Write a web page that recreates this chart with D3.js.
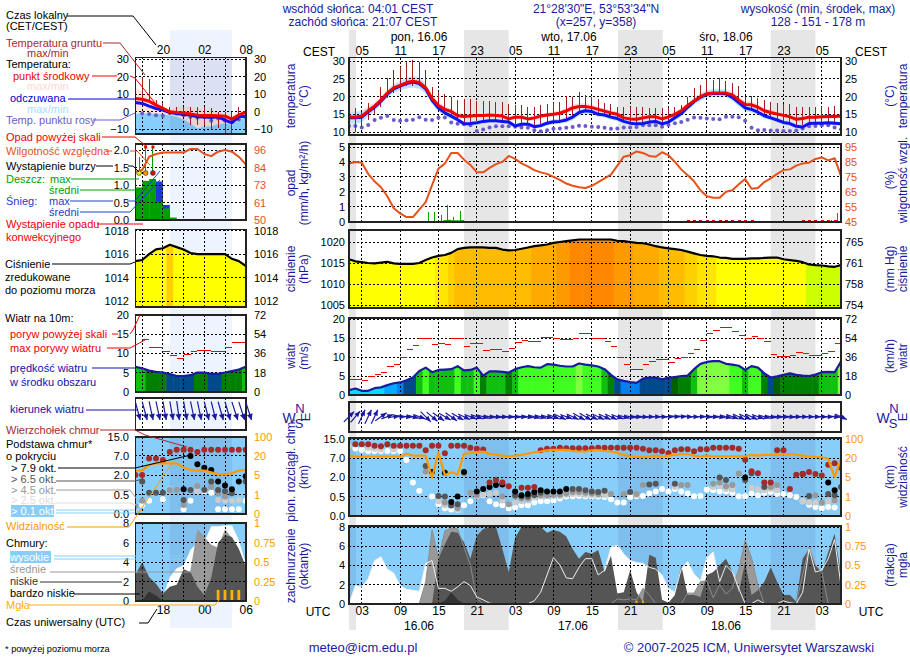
<!DOCTYPE html>
<html>
<head>
<meta charset="utf-8">
<title>Meteogram</title>
<script src="https://cdn.jsdelivr.net/npm/d3@7"></script>
<style>
  body { margin: 0; background: #fff; }
  svg { display: block; font-family: "Liberation Sans", Arial, sans-serif; }
  .grid line { stroke: #000; stroke-width: 1; stroke-dasharray: 2 2; shape-rendering: crispEdges; }
  .frame { fill: none; stroke: #222; stroke-width: 1.6; shape-rendering: crispEdges; }
  .crisp { shape-rendering: crispEdges; }
</style>
</head>
<body>
<div id="chart"></div>
<script>
// ---- main panels: one value per hour, hour 1 = 01 UTC 16.06, hour 78 = 06 UTC 19.06
const hours = d3.range(1, 79);
const tempMid = [14.3,14.2,14.5,16,17.3,19,21,22.5,23.2,24,24.4,24,22.5,19.5,17.5,16.4,15.8,14.6,14.4,14.5,14.7,14.7,14.8,14.7,14.5,13.7,14.2,14.2,13.7,14,14.5,14.8,15,15.3,16,16.8,17.2,17.2,16.9,16.4,15.9,15.4,15,14,13.7,13.6,14,14.3,14.3,13.7,14.3,15,16,17.5,18.8,20,20.8,21,21,21,20.5,19,17.8,17.7,17,16,15.5,15.1,14.7,14.3,13.6,13.8,14.2,14.2,14.3,14.4,14.4,14.5];
const tempFeel = [14,14,14.2,15.7,17,18.7,20.7,22.2,23,23.7,24.1,23.7,22.2,19,16.8,15.4,14.5,13.5,12.3,12.4,12.6,13,13.2,13.2,13,12.8,11.7,12.2,12.2,11.5,11.8,12.5,12.9,13,13.4,14.2,15.5,16,15.8,15,14.8,14.2,13.8,13,12.5,12.3,12.4,12.8,13,12.3,12.8,14,15.2,17,18.6,19.8,20.7,20.9,20.9,20.8,19.8,18.3,16.8,16.4,15.6,14.6,14,13.4,12.7,12.4,11.6,11.4,12.4,12.5,12.5,12.6,12.5,12.3];
const bandSpread = [1.5,1.6,1.5,1.2,1,1,1,1.1,1.2,1.4,1.5,1.5,1.3,1.1,1,.9,.8,.7,.6,.6,.6,.6,.6,.6,.6,.6,.6,.6,.6,.6,.6,.7,.7,.7,.8,.9,.9,.9,.8,.7,.7,.7,.7,.7,.7,.7,.7,.7,.7,.7,.7,.8,.8,.8,.9,1,1,1.1,1.1,1,1,1,.9,.9,.8,.8,.7,.7,.7,.7,.7,.6,.6,.6,.6,.6,.6,.6];
const dewPoint = [11.7,11.7,11.3,12,13.4,14,14.5,13.4,13.2,13.3,13.5,14.2,13.5,13.4,14,14.1,12.7,12.3,12.2,11.9,10.3,10.7,11.3,11.6,11.6,11.6,11.5,11.3,11.2,10.5,10.2,10.5,10.9,11,11.2,11.4,11.8,11.7,11.5,11.4,11.2,10.9,11,11.3,11.3,11.4,11.9,11.9,11.9,11.5,12,12.5,12.8,13.5,14.1,14,13.8,13.7,13.6,14.3,14.3,14.2,13.2,11.2,10.5,10.6,10.4,10.4,10.3,10.3,10.4,11,11.6,11.7,11.9,11.9,11.3,10.8];
const soilMax = [14.5,16.7,15.6,18.1,17.2,22.8,25.2,27.5,28.5,29.9,30.4,29.9,27.5,22.6,21.4,20.8,20,19,19.3,19.2,18.9,18.7,18.7,18.5,18.4,17.8,17.6,17.5,17.2,17.2,17.7,17.9,18.3,18.6,20.2,20,21.2,20.5,20,19.4,18.1,17.9,17.2,17.2,17,17.2,17.2,16.9,16.9,16.9,16.7,17.2,17.6,20,22.4,23.3,24.9,24.7,25.2,24.4,23.8,23,20,20.2,19.5,19,18.6,18.1,17.9,17.8,17.2,17.2,17.2,17.2,17.2,17.2,17.4,14.5];
const soilMin = [14,10,11.5,13.5,15,17,19.5,21,22,23,23,23,22,18.5,16.5,15.3,14.5,13.5,12.8,12.8,13,13.2,13.4,13.2,13,12.6,12.2,12.4,12.4,12,12.2,12.8,13,13.2,13.8,14.6,15.6,16,15.8,15.2,15,14.4,14,13.2,12.8,12.6,12.6,13,13.2,12.4,13,14.2,15.4,17,18.6,19.8,20.5,20.8,20.8,20.6,19.8,18.3,16.8,16.4,15.6,14.8,14.2,13.6,12.9,12.5,11.6,12,12.5,12.6,12.6,12.7,12.6,14];

const humidity = [84,85,84.5,77,72,68,62,54,50.5,48,48,53,58,69.5,80.5,84,91,91,86.5,83,78,78,81,83.5,85,89,87,84,82,79.5,78,77,75,73,70.5,69,68,67.5,69,71.5,74,76.5,82.5,88.5,89.5,92,91,89,88.5,91.5,89.5,85,80,76,72,66,62,61,61,65,66,70,73.5,67,67.5,71.5,74,77,79.5,80,82.5,84,84.5,87,88,86,87.5,75.5];
const rainMax = [[13.45,.67],[14.4,.67],[15.5,.45],[16.4,1.1],[17.4,.33],[18.4,.7],[76.5,.1],[77.4,.55]];
const rainAvg = [[15.8,.1],[16.4,.12],[16.9,.08],[17.4,.08],[17.9,.08],[18.4,.1]];
const convective = [54,55,56,57,58,59,60,61,62,63,64,72,73,74,75,76,77,78];

const pressure = [1015.9,1015.4,1015.2,1015,1014.9,1015.1,1015.3,1014.9,1014.8,1014.8,1014.8,1015,1015.7,1016.3,1016.7,1016.9,1017.4,1018.3,1018.6,1018.7,1018.7,1018.7,1018.6,1018.6,1018.2,1018,1018.1,1018.4,1018.7,1019,1019.2,1019.4,1019.8,1020,1020.2,1020.4,1020.6,1020.6,1020.6,1020.6,1020.6,1020.6,1020.3,1020.2,1020,1019.8,1019.7,1019.4,1019,1018.7,1018.5,1018.3,1018.1,1017.7,1017.3,1016.9,1016.7,1016.6,1016.3,1016.2,1016,1016,1016,1016.1,1016.1,1016.2,1016.3,1016.3,1015.9,1015.7,1015.5,1015.2,1014.65,1014.5,1014.4,1014.2,1014.1,1014.5];
const pressureBreaks = [1014.7,1016.5,1017.2,1017.9,1018.9,1019.9,1020.35];
const pressureColors = ["#ccff00","#ffff00","#ffe600","#ffd000","#ffbb00","#ffaa00","#ff9900","#ff8800"];

const windSpeed = [1.3,1.7,1.1,1.1,1.8,2,2.6,3.1,3.3,3.9,4.6,6.3,7.2,6,6.6,6.7,6.8,7.6,6.5,6.6,7.2,5.1,6.2,6.2,6.1,5.9,6.8,7.3,7.6,7.3,7.2,8.1,8,7.7,7.5,7.5,8.3,8,7.8,7.5,6.8,5.3,4.1,3.7,3.4,3.2,4.3,4.6,4.6,4.1,4.6,4.7,5,5.1,6.8,8.2,8.7,8.9,8.9,8.2,8,7.7,6.6,7.6,7.2,5.7,4.6,4.9,5.3,5.7,5.3,5.1,5,5.4,6,6.1,6,8.8];
const windGust = [4.1,4.1,3.9,4.8,5.4,6,7.5,8.1,9.9,12.1,13.1,14.9,14.9,13.4,13.6,13.3,14.9,14.9,12.8,13.6,13.6,11.8,12.1,11.9,11.4,12.3,13.9,14.4,14.1,14,15.1,15.1,14.9,14.6,14.6,14.9,16.2,16.2,14.9,14.8,14.1,12.7,9.9,8,6.8,6.8,8,8.9,9.4,9.4,8.6,9.5,9.9,11,12,14.3,16.2,17,17.8,17.8,16.8,15.7,14.9,15.4,14.9,14,10.7,10.2,10.2,10.5,11.2,10.9,10.4,10.4,10.9,11.5,13.6,17];
const windBreaks = [2.2,3.2,3.9,4.7,5,6,7,8.2];
const windColors = ["#00ddff","#00aaff","#0080f0","#004a8c","#006000","#008000","#10c010","#40ff20","#80ff40"];
const windHeading = [45,50,65,65,65,35,20,10,0,-5,-15,-20,-45,-40,-35,-30,-35,-30,-25,-20,-20,-15,-10,-8,-5,-5,-5,-5,-10,-15,-15,-15,-20,-25,-20,-25,-30,-30,-25,-25,-25,-25,-20,-15,-10,-5,-5,0,0,0,5,5,5,0,0,0,-5,-5,-10,-15,-20,-25,-25,-25,-20,-15,-10,-5,-5,-5,0,0,0,0,0,0,-5,-25];

// cloud base in km as [hour, km], sparse because a level is not always present
const cloudTop = [[2,12.8],[3,12.8],[4,12.8],[5,12.2],[6,12],[7,12.8],[8,12.2],[9,12.2],[10,12.2],[11,12.2],[12,12.2],[13,10.3],[14,12.2],[15,12.2],[16,9.1],[17,12.2],[18,12.2],[19,12.2],[20,11.4],[21,10.9],[22,10.6],[23,1.6],[24,1.8],[25,1.6],[26,1.3],[28,1.2],[29,1.2],[30,1.25],[31,10.3],[32,10.9],[33,10.9],[34,11.4],[35,11.1],[36,11.1],[37,11.1],[38,11.1],[39,11.1],[40,11.4],[41,11.4],[42,11.4],[43,11.4],[44,11.4],[45,11.4],[46,11.4],[47,10.9],[48,10.3],[49,10.3],[50,9.9],[51,9.1],[52,10.3],[53,10.7],[54,10.7],[55,9.9],[56,10.7],[57,10.7],[58,11.4],[59,11.4],[60,11.4],[61,11.4],[62,10.9],[63,6.6],[64,3.6],[65,3.1],[66,1.6],[67,1.6],[68,10.3],[69,10.3],[70,1.1],[71,2.7],[72,2.9],[73,3.4],[74,2.9],[75,2.5],[76,5.3],[77,5.7],[78,4.5]];
const base79 = [[14,3.4],[16,3.2],[17,.36],[18,.5],[19,3.4],[21,.9],[22,1.1],[23,1.25],[24,1.4],[25,1.45],[27,.9],[28,.6],[29,.7],[30,.85],[31,1],[32,.9],[33,.9],[34,.9],[35,1.1],[63,2],[72,2.9],[76,1.6],[77,1]];
const base65 = [[13,5],[15,.55],[16,.5],[17,.27],[18,.3],[27,.6],[28,.5],[29,.5],[30,.6],[31,.8],[36,1.1],[37,1.1],[38,1],[39,.9],[40,.85],[41,.95],[45,.85],[48,1.45],[49,1.5],[52,1.5],[59,2],[60,1.8],[63,1.8],[64,3.1],[66,1.25],[73,.55],[76,.7],[77,.6],[78,1.25]];
const base45 = [[13,3.5],[16,.35],[18,.2],[19,3],[20,.8],[21,.6],[25,.5],[26,.3],[27,.5],[28,.45],[29,.45],[31,.6],[32,.6],[33,.65],[34,.65],[35,.75],[36,.85],[37,.85],[38,.8],[39,.75],[40,.7],[42,.7],[44,.7],[46,.7],[47,1.4],[53,1.4],[54,1.4],[58,1.5],[59,1.6],[60,1.3],[61,1.4],[62,3],[67,1.25],[68,1.4],[74,.6],[75,.35],[77,.4]];
const base25 = [[1,12],[4,11.2],[5,10.9],[6,10.6],[8,10.6],[13,3],[15,.38],[16,.28],[18,.17],[21,.5],[22,.65],[23,.7],[24,.8],[25,.4],[27,.35],[28,.38],[29,.4],[30,.48],[31,.5],[32,.55],[33,.55],[34,.55],[35,.65],[36,.7],[37,.7],[38,.65],[39,.6],[40,.6],[41,.6],[46,.6],[52,1.25],[58,1.25],[59,1.3],[60,1.1],[61,1.05],[64,1.2],[65,1.05],[66,1],[67,1.1],[68,1],[72,.38],[73,.35],[74,.35],[75,.33],[76,.38],[77,.38]];
const base01 = [[2,11],[3,10.5],[4,10],[5,10],[6,10],[7,10],[8,10],[9,10],[10,6.5],[11,1.6],[12,.95],[14,.5],[15,.3],[16,.2],[17,.17],[18,.16],[19,.28],[20,.38],[21,.55],[22,.6],[23,.38],[24,.3],[25,.28],[26,.2],[27,.22],[28,.28],[29,.28],[30,.35],[31,.38],[32,.38],[33,.4],[34,.45],[35,.5],[36,.52],[37,.54],[38,.52],[39,.5],[40,.5],[41,.49],[42,.43],[43,.35],[44,.35],[45,.49],[46,.52],[47,.54],[48,.75],[49,.9],[50,1.1],[51,.9],[52,1.1],[53,.9],[54,.75],[55,.52],[56,.54],[57,1.05],[58,1],[59,.9],[60,.9],[61,.8],[62,.52],[63,.52],[64,.75],[65,.6],[66,.8],[67,.85],[68,.7],[69,.7],[70,.6],[71,.49],[72,.38],[73,.29],[74,.23],[75,.2],[76,.23],[77,.22]];
const visibility = [31,28,27,27,27,27,27,27,27,38,31,31,31,4.9,45,6.6,9,7.3,38,41,45,48,38,35,31,28,31,34,39,45,48,53,54.5,54.5,54.5,50,48,48,53,54,50,48,42,34,28,25.5,24,27,31,27,31,34,37,37,31,27,31,28,28,28,28,28,28,34,31,34,34,34,35,37,35,31,28,25.5,24,19.5,5.2,20];

const cloudHigh = [0,1.9,1.75,2.6,4.5,4.9,3.6,3.2,1.9,1.5,1.4,1.3,4.2,4.5,1.6,1.6,1.3,1.75,2.3,1.9,.7,.4,.05,0,0,0,0,0,0,.3,1.2,3,4.8,4.05,2.7,2.6,3.8,4.7,4.7,3,3.5,5.9,6.1,5.2,4.5,4.3,4.2,3.8,3.6,3,1.6,1.2,3.6,4.4,3.1,2.4,4.8,5.4,2.3,4,3.3,1.6,0,0,.4,0,0,0,.3,.1,0,1.2,5.7,3.3,3.5,4.7,6.7,1.9];
const cloudMid = [0,0,0,0,0,0,0,0,0,0,0,0,2.3,7.7,4.7,7.6,7.9,7.8,5.9,4,.5,0,0,0,0,0,0,0,0,0,0,0,0,0,0,0,0,0,0,0,0,0,.5,.4,.5,.4,1.6,.9,0,0,0,0,0,1.1,1.1,2.3,2.4,.6,2,1,1.6,3.6,6.6,4.8,1.9,0,0,0,0,0,0,3,5.9,4,3.3,0,0,0];
const cloudLow = [0,0,0,0,0,0,0,0,0,0,0,0,0,0,4.7,6.2,7.5,7.4,6.4,4.7,7.1,7.8,8,8,5.7,3.3,6.9,8,8,8,8,7.4,7.7,7.5,7,5.7,4.7,5.4,5.2,5.6,3.3,5,1.07,1.2,3.5,1.2,.2,5.1,4.8,.4,.1,.9,4,.9,.9,.7,3,3.3,4,4.7,3.3,1.2,4.3,.9,1.4,2.3,3.8,2.3,.9,.9,.2,4.7,5.7,4,3.3,5.4,7.3,3];
const cloudVeryLow = [0,0,0,0,0,0,0,0,0,0,0,0,0,0,0,.3,1.2,.4,0,0,0,0,0,0,0,0,0,0,0,0,0,0,0,0,0,0,0,0,0,0,0,0,0,0,0,0,0,0,0,0,0,0,0,0,0,0,0,0,0,0,0,0,0,0,0,0,0,0,0,0,0,0,0,0,0,0];
const fog = [[46,.04],[47,.04]];

const nightStart = [0, 19, 43.1, 67];
const nightEnd = [2.1, 26, 50.1, 74];

// ---- legend panel: 14 UTC to 06 UTC, one value per hour
const legendHours = d3.range(14, 31);
const legendTemp = [7.6,7.2,6,3.8,1.9,0,-.4,-.6,-1.3,-1.9,-2.1,-2.1,-2.3,-2.5,-4.2,-1.9,-.2];
const legendFeel = [5.3,4.8,3.2,1.9,1,-.4,-1,-1.5,-1.9,-2.9,-3,-3.2,-2.9,-4.8,-6.3,-2.9,-2.5];
const legendDew = [null,-1,-1.3,-1.9,-2.3,-.6,-1,-1.9,-2.9,-3.4,-2.9,-5.1,-3.8,-5.1,-5.7,-4.4,-2.9];
const legendPinkTop = [13.9,11.4,9.5,6.7,2.5,1.5,2.9,2.9,2.9,1.9,1,.6,0,-1,-1.9,0,0];
const legendBlueTop = [-1,-1,-1,-1,-1.3,-1.9,-2.9,-4.4,-6.7,-9.5,-8.6,-8.2,-7,-6.7,-7.6,-4.8,-2.9];
const legendSoilMax = [null,20,19,6.7,4.8,2.9,2.9,2.9,2.9,2.5,2.5,1.9,0,0,0,2.9,null];
const legendSoilMin = [null,6.7,6.7,3.8,.6,-1.9,-1.9,-2.9,-7.6,-7.6,-7.6,-10.1,-9.5,-12.4,-12,-4.8,null];
const legendHumidity = [81.8,82.9,91.6,93.4,94.3,94.3,94.3,94.3,96.7,96.7,93.4,92,94.9,96,94.9,91.6,86.6];
const legendRain = [.93,1.12,1.17,.52,.33,.07];
const legendSnow = [0,0,0,1.1,.43,0];
const legendStorm = [[14.55,"#ffee00",1.8],[15.5,"#ff9900",2.05],[16.55,"#ee0000",2.05]];
const legendConvective = [14.5,15,15.5,16,16.5,17,17.5,18,18.5];
const legendPressure = [1015.4,1015.5,1016,1016.4,1016.5,1016.8,1016.6,1016.4,1016.1,1016,1016,1016,1016,1016,1015.6,1015.4,1015];
const legendWind = [6.5,6.1,5.5,5.2,5,4.6,4.1,4.1,4.3,5,5,4.65,4.65,5,5.4,5.8,6.5];
const legendGust = [null,13.6,11.6,11.6,10.5,9.5,8.7,9.7,10.5,10.8,10.8,10.4,10.4,11.6,12.7,12.9];
const legendHeading = [-75,-75,-78,-78,-80,-80,-82,-80,-78,-78,-76,-76,-74,-74,-72,-72,-72];
const legendTop = [[14,2],[15,2],[16,6.3],[17,6.3],[18,5.9],[19,8.6],[20,9.5],[21,9.5],[22,9.5],[23,8.6],[24,9.5],[25,9.5],[26,9.5],[27,9.5],[28,9.5],[29,9.5],[30,9.5]];
const legend79 = [[21,.9],[22,6.9],[23,4.8],[24,3.9],[25,3.3],[26,1.5],[27,1.2],[28,.9],[29,1.5],[30,1.9]];
const legend65 = [[15,1.5],[16,.65],[17,.65],[18,.65],[21,.36],[22,.85],[24,.85],[25,1.5],[26,.85],[27,.75],[28,.6],[30,1.5]];
const legend45 = [[14,.2],[15,.34],[19,.85],[20,.85],[21,.23],[23,1.15],[25,1.1],[26,.6],[27,.45]];
const legend25 = [[14,.15],[19,.9],[23,.75],[26,.36],[27,.34],[28,.34],[29,.36]];
const legend01 = [[15,.23],[16,.34],[18,.38],[21,.12],[22,.34],[23,.75],[24,.75],[25,.65],[26,.12],[27,.12],[28,.12],[29,.12],[30,.34]];
const legendVis = [8.4,8.4,12.8,14,14,14,14,11,8.9,8.4,8.4,7,5.5,5.5,6.3,8.4,8.9];
const legendHigh = [0,0,0,.1,.5,2.5,3.4,3.7,5.3,6,6.1,7.7,7.7,7.8,7.8,6.3,3.9];
const legendMid = [0,0,0,0,0,0,0,1,3.2,7.4,6.6,5.8,5.5,7.4,6.5,5,3.2];
const legendLow = [2.7,4,2.5,1.8,.8,1.5,1.7,3.3,3,1.5,.65,2.4,6,6.8,6.6,5.4,3.6];
const legendVeryLow = [0,.1,1,.6,0,0,0,0,0,0,0,0,0,0,0,0,0];
const legendFog = [[26,.145],[27,.145],[28,.145],[29,.145]];

// ---- tick labels
const tempTicks = [30,25,20,15,10];
const precipTicks = [5,4,3,2,1,0];
const humidityTicks = [95,85,75,65,55,45];
const hpaTicks = [1020,1015,1010,1005];
const mmHgLabels = [765,761,758,754];
const windTicks = [20,15,10,5,0];
const kmhLabels = [72,54,36,18,0];
const baseTicks = [0,.5,2,7,15];
const visTicks = [0,1,5,20,100];
const coverTicks = [8,6,4,2,0];
const fracTicks = [1,.75,.5,.25,0];
const timeTicks = d3.range(3, 78, 6);
const legendTimeTicks = [15,18,21,24,27];

const NAVY = "#1a1aa0", ORANGE = "#ff9900", HUM = "#e8501a", SKY = "#87cefa";
const width = 910, height = 660;

const svg = d3.select("#chart").append("svg").attr("width", width).attr("height", height);

function txt(x, y, s, fill = "#000", anchor = "start", size = 12, rotate = false) {
  const t = svg.append("text").attr("fill", fill).attr("text-anchor", anchor)
    .attr("font-size", size).text(s);
  if (rotate) t.attr("transform", `translate(${x},${y}) rotate(-90)`);
  else t.attr("x", x).attr("y", y);
  return t;
}

function leader(color, pts) {
  svg.append("path").attr("d", d3.line()(pts)).attr("fill", "none")
    .attr("stroke", color).attr("stroke-width", 1);
}

function valueAxis(scale, x, side, vals, color, fmt) {
  const axis = (side === "left" ? d3.axisLeft(scale) : d3.axisRight(scale))
    .tickValues(vals).tickSize(0).tickPadding(0).tickFormat(fmt || d3.format("d"));
  const g = svg.append("g").attr("transform", `translate(${x},0)`).call(axis);
  g.select(".domain").remove();
  g.selectAll("text").attr("fill", color).attr("font-size", 11)
    .attr("font-family", "Liberation Sans");
}

function timeAxis(scale, y, side, vals, fmt) {
  const axis = (side === "top" ? d3.axisTop(scale) : d3.axisBottom(scale))
    .tickValues(vals).tickSize(0).tickPadding(0).tickFormat(fmt);
  const g = svg.append("g").attr("transform", `translate(0,${y})`).call(axis);
  g.select(".domain").remove();
  g.selectAll("text").attr("fill", "#000").attr("font-size", 12)
    .attr("font-family", "Liberation Sans");
}

let clipCount = 0;
function panel(x, top, bottom, fill) {
  const x0 = x.range()[0], x1 = x.range()[1];
  const id = "clip" + (clipCount++);
  svg.append("clipPath").attr("id", id).append("rect")
    .attr("x", x0).attr("y", top).attr("width", x1 - x0).attr("height", bottom - top);
  const g = svg.append("g").attr("clip-path", `url(#${id})`);
  if (fill) {
    g.append("rect").attr("x", x0).attr("y", top).attr("width", x1 - x0)
      .attr("height", bottom - top).attr("fill", fill);
  }
  return { g, x0, x1, top, bottom, x };
}

function nightOverlay(p, starts, ends) {
  p.g.selectAll(null).data(starts).enter().append("rect")
    .attr("x", d => p.x(d)).attr("width", (d, i) => p.x(ends[i]) - p.x(d))
    .attr("y", p.top).attr("height", p.bottom - p.top)
    .attr("fill", "#3a3a80").attr("opacity", 0.1);
}

function gridLines(p, xTicks, yTicks, y) {
  const g = p.g.append("g").attr("class", "grid");
  g.selectAll(null).data(xTicks).enter().append("line")
    .attr("x1", d => p.x(d)).attr("x2", d => p.x(d)).attr("y1", p.top).attr("y2", p.bottom);
  g.selectAll(null).data(yTicks).enter().append("line")
    .attr("y1", d => y(d)).attr("y2", d => y(d)).attr("x1", p.x0).attr("x2", p.x1);
}

function frame(p) {
  svg.append("rect").attr("class", "frame").attr("x", p.x0).attr("y", p.top)
    .attr("width", p.x1 - p.x0).attr("height", p.bottom - p.top);
}

function strokeLine(p, xs, vals, y, color, w) {
  const line = d3.line().defined(d => d[1] != null).x(d => p.x(d[0])).y(d => y(d[1]));
  p.g.append("path").attr("d", line(xs.map((h, i) => [h, vals[i]])))
    .attr("fill", "none").attr("stroke", color).attr("stroke-width", w)
    .attr("stroke-linejoin", "round");
}

function band(p, xs, lo, hi, color) {
  const area = d3.area().x(d => p.x(d[0])).y0(d => lo(d[1])).y1(d => hi(d[1]));
  p.g.append("path").attr("d", area(xs.map((h, i) => [h, i]))).attr("fill", color);
}

// filled area under a line, each hour coloured by its value
function colourArea(p, xs, vals, y, colour) {
  const id = "clip" + (clipCount++);
  const area = d3.area().x(d => p.x(d[0])).y0(p.bottom).y1(d => y(d[1]));
  svg.append("clipPath").attr("id", id).append("path")
    .attr("d", area(xs.map((h, i) => [h, vals[i]])));
  p.g.append("g").attr("clip-path", `url(#${id})`)
    .selectAll("rect").data(xs).enter().append("rect")
    .attr("x", h => p.x(h - 0.5)).attr("width", h => p.x(h + 0.5) - p.x(h - 0.5) + 0.5)
    .attr("y", p.top).attr("height", p.bottom - p.top)
    .attr("fill", (h, i) => colour(vals[i]));
}

function dots(p, pts, y, color, r) {
  p.g.selectAll(null).data(pts).enter().append("circle")
    .attr("cx", d => p.x(d[0])).attr("cy", d => y(d[1])).attr("r", r).attr("fill", color);
}

function arrows(group, x, cy, xs, heading, len, head, hw, tailAtTop) {
  xs.forEach((h, i) => {
    const a = heading[i] * Math.PI / 180;
    const l = typeof len === "function" ? len(a) : len;
    const dx = Math.cos(a), dy = -Math.sin(a);
    const cx = x(h);
    const sx = tailAtTop ? cx : cx - dx * l / 2, sy = tailAtTop ? cy - dy * l : cy - dy * l / 2;
    const ex = tailAtTop ? cx + dx * l : cx + dx * l / 2, ey = tailAtTop ? cy : cy + dy * l / 2;
    group.append("line").attr("x1", sx).attr("y1", sy).attr("x2", ex).attr("y2", ey)
      .attr("stroke", "#1a1aa0").attr("stroke-width", 1.2);
    const bx = ex - dx * head, by = ey - dy * head;
    group.append("path")
      .attr("d", `M${ex},${ey}L${bx - dy * hw},${by + dx * hw}L${bx + dy * hw},${by - dx * hw}Z`)
      .attr("fill", "#1a1aa0");
  });
}

const pressureColour = d3.scaleThreshold().domain(pressureBreaks).range(pressureColors);
const windColour = d3.scaleThreshold().domain(windBreaks).range(windColors);

// ---- grey night bands behind the main panels, pale blue one behind the legend panels
const xMain = d3.scaleLinear().domain([1, 78]).range([349, 841]);
const xLeg = d3.scaleLinear().domain([14, 30]).range([135.3, 245.7]);

svg.selectAll(null).data(nightStart).enter().append("rect")
  .attr("x", (d, i) => xMain(Math.max(d, 1)))
  .attr("width", (d, i) => xMain(nightEnd[i]) - xMain(Math.max(d, 1)))
  .attr("y", 30).attr("height", 600).attr("fill", "#e6e6e6");
svg.append("rect").attr("x", xLeg(19)).attr("width", xLeg(28) - xLeg(19))
  .attr("y", 30).attr("height", 598).attr("fill", "#eef4ff");

// ---- main: temperature
{
  const y = d3.scaleLinear().domain([10, 30]).range([132, 61.3]);
  const p = panel(xMain, 57.5, 135);
  band(p, hours, i => y(tempMid[i] - bandSpread[i]), i => y(tempMid[i] + bandSpread[i]), "#ffd8d8");
  band(p, hours, i => y(tempFeel[i] - bandSpread[i]), i => y(tempFeel[i] + bandSpread[i]), "#b8e4ff");
  gridLines(p, timeTicks, tempTicks, y);
  dots(p, hours.map((h, i) => [h, dewPoint[i]]), y, "#6a5acd", 2);
  p.g.selectAll(null).data(hours).enter().append("line").attr("class", "crisp")
    .attr("x1", d => p.x(d)).attr("x2", d => p.x(d))
    .attr("y1", (d, i) => y(soilMax[i])).attr("y2", (d, i) => y(soilMin[i]))
    .attr("stroke", "#a02020").attr("stroke-width", 1);
  strokeLine(p, hours, tempFeel, y, "#1010f0", 3);
  strokeLine(p, hours, tempMid, y, "#f00000", 3);
  frame(p);
  valueAxis(y, 345, "left", tempTicks, "#000");
  valueAxis(y, 845, "right", tempTicks, "#000");
}

// ---- main: precipitation and humidity
{
  const y = d3.scaleLinear().domain([0, 5]).range([221.6, 147]);
  const yH = d3.scaleLinear().domain([45, 95]).range([221.6, 147]);
  const p = panel(xMain, 144, 222);
  gridLines(p, timeTicks, precipTicks, y);
  p.g.selectAll(null).data(rainMax).enter().append("line").attr("class", "crisp")
    .attr("x1", d => p.x(d[0])).attr("x2", d => p.x(d[0]))
    .attr("y1", d => y(d[1])).attr("y2", y(0))
    .attr("stroke", "#00a000").attr("stroke-width", 1);
  p.g.selectAll(null).data(rainAvg).enter().append("rect")
    .attr("x", d => p.x(d[0])).attr("width", 4)
    .attr("y", d => y(d[1])).attr("height", d => y(0) - y(d[1])).attr("fill", "#00a000");
  p.g.selectAll(null).data(convective).enter().append("rect").attr("class", "crisp")
    .attr("x", d => p.x(d) - 1).attr("width", 3).attr("y", 220).attr("height", 2).attr("fill", "#e00000");
  strokeLine(p, hours, humidity, yH, HUM, 2);
  frame(p);
  valueAxis(y, 345, "left", precipTicks, "#000");
  valueAxis(yH, 845, "right", humidityTicks, HUM);
}

// ---- main: pressure
{
  const y = d3.scaleLinear().domain([1005, 1020]).range([305, 242]);
  const yMm = d3.scalePoint().domain(mmHgLabels).range([242, 305]);
  const p = panel(xMain, 230, 308);
  colourArea(p, hours, pressure, y, pressureColour);
  gridLines(p, timeTicks, hpaTicks, y);
  strokeLine(p, hours, pressure, y, "#000", 2.2);
  frame(p);
  valueAxis(y, 345, "left", hpaTicks, "#000");
  valueAxis(yMm, 845, "right", mmHgLabels, "#000");
}

// ---- main: wind
{
  const y = d3.scaleLinear().domain([0, 20]).range([395, 319]);
  const yK = d3.scaleLinear().domain([0, 72]).range([395, 319]);
  const p = panel(xMain, 317.7, 395);
  colourArea(p, hours, windSpeed, y, windColour);
  gridLines(p, timeTicks, windTicks, y);
  p.g.selectAll(null).data(hours).enter().append("line").attr("class", "crisp")
    .attr("x1", d => p.x(d)).attr("x2", d => p.x(d + 1))
    .attr("y1", (d, i) => y(windGust[i])).attr("y2", (d, i) => y(windGust[i]))
    .attr("stroke", "#f00000").attr("stroke-width", 1);
  strokeLine(p, hours, windSpeed, y, "#1a1aa0", 2.2);
  frame(p);
  valueAxis(y, 345, "left", windTicks, "#000");
  valueAxis(yK, 845, "right", kmhLabels, "#000");
}

// ---- main: wind direction
{
  const p = panel(xMain, 401.7, 431.7);
  gridLines(p, timeTicks, [], null);
  frame(p);
  arrows(svg.append("g"), xMain, 416.7, hours, windHeading, a => 11 + 5 * Math.abs(Math.sin(a)), 6, 2.5, false);
}

// ---- main: cloud base and visibility
{
  const y = d3.scaleLinear().domain(baseTicks).range([516, 496.6, 477.4, 458.2, 439]);
  const yV = d3.scaleLinear().domain(visTicks).range([516, 496.6, 477.4, 458.2, 439]);
  const p = panel(xMain, 437.7, 516, SKY);
  nightOverlay(p, nightStart, nightEnd);
  gridLines(p, timeTicks, baseTicks, y);
  dots(p, base01, y, "#fff", 3);
  dots(p, base25, y, "#cccccc", 3);
  dots(p, base45, y, "#999999", 3);
  dots(p, base65, y, "#555555", 3);
  dots(p, base79, y, "#000", 3);
  dots(p, cloudTop, y, "#a52a2a", 3);
  strokeLine(p, hours, visibility, yV, ORANGE, 2.2);
  frame(p);
  valueAxis(y, 345, "left", baseTicks, "#000", d3.format(".1f"));
  valueAxis(yV, 845, "right", visTicks, ORANGE);
}

// ---- main: cloud cover and fog
{
  const y = d3.scaleLinear().domain([0, 8]).range([603.7, 527]);
  const yF = d3.scaleLinear().domain([0, 1]).range([603.7, 527]);
  const p = panel(xMain, 526, 603.7, SKY);
  nightOverlay(p, nightStart, nightEnd);
  band(p, hours, () => y(0), i => y(cloudHigh[i]), "#fff");
  band(p, hours, () => y(0), i => y(cloudMid[i]), "#999999");
  band(p, hours, () => y(0), i => y(cloudLow[i]), "#555555");
  band(p, hours, () => y(0), i => y(cloudVeryLow[i]), "#333333");
  gridLines(p, timeTicks, coverTicks, y);
  strokeLine(p, hours, cloudMid, y, "#8c8c8c", 1);
  strokeLine(p, hours, cloudHigh, y, "#eeeeee", 1);
  p.g.selectAll(null).data(fog).enter().append("rect")
    .attr("x", d => p.x(d[0]) - 1).attr("width", 2)
    .attr("y", d => yF(d[1])).attr("height", d => yF(0) - yF(d[1])).attr("fill", "#ffaa00");
  frame(p);
  valueAxis(y, 345, "left", coverTicks, "#000");
  valueAxis(yF, 845, "right", fracTicks, ORANGE, d => d === 0 || d === 1 ? d : d3.format(".3~f")(d));
}

// ---- main: time axes
const cest = h => d3.format("02d")((h + 2) % 24);
const utc = h => d3.format("02d")(h % 24);
timeAxis(xMain, 55, "top", timeTicks, cest);
timeAxis(xMain, 606, "bottom", timeTicks, utc);
txt(319, 56, "CEST", "#000", "middle");
txt(871, 56, "CEST", "#000", "middle");
txt(318, 616, "UTC", "#000", "middle");
txt(871, 616, "UTC", "#000", "middle");
txt(419, 41, "pon, 16.06", "#000", "middle");
txt(569, 41, "wto, 17.06", "#000", "middle");
txt(726, 41, "śro, 18.06", "#000", "middle");
txt(419, 630, "16.06", "#000", "middle");
txt(573, 630, "17.06", "#000", "middle");
txt(726, 630, "18.06", "#000", "middle");

// ---- legend: temperature
{
  const y = d3.scaleLinear().domain([-10, 30]).range([129.3, 59.3]);
  const p = panel(xLeg, 57.3, 134);
  band(p, legendHours, i => y(legendBlueTop[i]), i => y(legendPinkTop[i]), "#ffe4dc");
  band(p, legendHours, () => 134, i => y(legendBlueTop[i]), SKY);
  nightOverlay(p, [19], [28]);
  gridLines(p, legendTimeTicks, [30,20,10,0,-10], y);
  dots(p, legendHours.map((h, i) => [h, legendDew[i]]).filter(d => d[1] != null), y, "#6a5acd", 2);
  p.g.selectAll(null).data(legendHours).enter().append("line").attr("class", "crisp")
    .attr("x1", d => p.x(d)).attr("x2", d => p.x(d))
    .attr("y1", (d, i) => legendSoilMax[i] == null ? 0 : y(legendSoilMax[i]))
    .attr("y2", (d, i) => legendSoilMax[i] == null ? 0 : y(legendSoilMin[i]))
    .attr("stroke", "#a02020").attr("stroke-width", 1);
  strokeLine(p, legendHours, legendFeel, y, "#1010f0", 3);
  strokeLine(p, legendHours, legendTemp, y, "#f00000", 3);
  frame(p);
  valueAxis(y, 129, "left", [30,20,10,0,-10], "#000");
  valueAxis(y, 254, "right", [30,20,10,0,-10], "#000");
}

// ---- legend: precipitation
{
  const y = d3.scaleLinear().domain([0, 2]).range([220, 150]);
  const yH = d3.scalePoint().domain([96,84,73,61,50]).range([150, 220]);
  const yHum = d3.scaleLinear().domain([50, 96]).range([220, 150]);
  const p = panel(xLeg, 144, 220);
  const barHours = legendHours.slice(0, 6);
  p.g.selectAll(null).data(barHours).enter().append("rect")
    .attr("x", d => p.x(d)).attr("width", d => p.x(d + 1) - p.x(d))
    .attr("y", (d, i) => y(legendSnow[i])).attr("height", (d, i) => legendSnow[i] ? y(0) - y(legendSnow[i]) : 0)
    .attr("fill", "#1a3ad0");
  p.g.selectAll(null).data(barHours).enter().append("rect")
    .attr("x", d => p.x(d)).attr("width", d => p.x(d + 1) - p.x(d))
    .attr("y", (d, i) => y(legendRain[i])).attr("height", (d, i) => y(0) - y(legendRain[i]))
    .attr("fill", "#00a000");
  gridLines(p, legendTimeTicks, [2,1.5,1,.5,0], y);
  p.g.selectAll(null).data(legendConvective).enter().append("rect").attr("class", "crisp")
    .attr("x", d => p.x(d) - 1).attr("width", 2.5).attr("y", 218.5).attr("height", 1.5).attr("fill", "#e00000");
  legendStorm.forEach(d => {
    p.g.append("line").attr("class", "crisp").attr("x1", p.x(d[0])).attr("x2", p.x(d[0]))
      .attr("y1", y(d[2])).attr("y2", 173).attr("stroke", "#00a000");
  });
  svg.selectAll(null).data(legendStorm.slice(1)).enter().append("rect")
    .attr("x", d => xLeg(d[0]) - 1.5).attr("y", 145.5).attr("width", 3).attr("height", 3).attr("fill", "#e00000");
  strokeLine(p, legendHours, legendHumidity, yHum, HUM, 2);
  p.g.selectAll(null).data(legendStorm).enter().append("circle")
    .attr("cx", d => p.x(d[0])).attr("cy", 173).attr("r", 2.4)
    .attr("fill", d => d[1]).attr("stroke", "#333").attr("stroke-width", 0.7);
  frame(p);
  valueAxis(y, 129, "left", [2,1.5,1,.5,0], "#000", d3.format(".1f"));
  valueAxis(yH, 254, "right", [96,84,73,61,50], HUM);
}

// ---- legend: pressure
{
  const y = d3.scaleLinear().domain([1012, 1018]).range([301, 230.7]);
  const p = panel(xLeg, 229.3, 306.7);
  colourArea(p, legendHours, legendPressure, y, v => v > 1016.7 ? "#ffd000" : "#ffff00");
  gridLines(p, legendTimeTicks, [1018,1016,1014,1012], y);
  strokeLine(p, legendHours, legendPressure, y, "#000", 2.2);
  frame(p);
  valueAxis(y, 129, "left", [1018,1016,1014,1012], "#000");
  valueAxis(y, 254, "right", [1018,1016,1014,1012], "#000");
}

// ---- legend: wind
{
  const y = d3.scaleLinear().domain([0, 20]).range([391.7, 315]);
  const yK = d3.scaleLinear().domain([0, 72]).range([391.7, 315]);
  const p = panel(xLeg, 315, 391.7);
  colourArea(p, legendHours, legendWind, y, windColour);
  gridLines(p, legendTimeTicks, windTicks, y);
  p.g.selectAll(null).data(legendGust.map((v, i) => [i + 14, v]).filter(d => d[1] != null)).enter().append("line")
    .attr("class", "crisp")
    .attr("x1", d => p.x(d[0])).attr("x2", d => p.x(d[0] + 1))
    .attr("y1", d => y(d[1])).attr("y2", d => y(d[1]))
    .attr("stroke", "#f00000");
  strokeLine(p, legendHours, legendWind, y, "#1a1aa0", 2.2);
  frame(p);
  valueAxis(y, 129, "left", windTicks, "#000");
  valueAxis(yK, 254, "right", kmhLabels, "#000");
}

// ---- legend: wind direction
{
  const p = panel(xLeg, 398.3, 430);
  gridLines(p, legendTimeTicks, [], null);
  frame(p);
  arrows(svg.append("g"), xLeg, 420, legendHours, legendHeading, 19, 6, 3, true);
}

// ---- legend: cloud base
{
  const y = d3.scaleLinear().domain(baseTicks).range([514, 494.6, 475, 455.7, 436.7]);
  const yV = d3.scaleLinear().domain(visTicks).range([514, 494.6, 475, 455.7, 436.7]);
  const p = panel(xLeg, 436.7, 514, SKY);
  nightOverlay(p, [19], [28]);
  gridLines(p, legendTimeTicks, baseTicks, y);
  dots(p, legend01, y, "#fff", 3);
  dots(p, legend25, y, "#cccccc", 3);
  dots(p, legend45, y, "#999999", 3);
  dots(p, legend65, y, "#555555", 3);
  dots(p, legend79, y, "#000", 3);
  dots(p, legendTop, y, "#a52a2a", 3);
  strokeLine(p, legendHours, legendVis, yV, ORANGE, 2.2);
  frame(p);
  valueAxis(y, 129, "left", baseTicks, "#000", d3.format(".1f"));
  valueAxis(yV, 254, "right", visTicks, ORANGE);
}

// ---- legend: cloud cover
{
  const y = d3.scaleLinear().domain([0, 8]).range([601.3, 523.3]);
  const yF = d3.scaleLinear().domain([0, 1]).range([601.3, 523.3]);
  const p = panel(xLeg, 523.3, 601.3, SKY);
  nightOverlay(p, [19], [28]);
  band(p, legendHours, () => y(0), i => y(legendHigh[i]), "#fff");
  band(p, legendHours, () => y(0), i => y(legendMid[i]), "#999999");
  band(p, legendHours, () => y(0), i => y(legendLow[i]), "#555555");
  band(p, legendHours, () => y(0), i => y(legendVeryLow[i]), "#333333");
  gridLines(p, legendTimeTicks, coverTicks, y);
  p.g.selectAll(null).data(legendFog).enter().append("rect")
    .attr("x", d => p.x(d[0]) - 1.4).attr("width", 2.8)
    .attr("y", d => yF(d[1])).attr("height", d => yF(0) - yF(d[1])).attr("fill", "#ffb000");
  frame(p);
  valueAxis(y, 129, "left", coverTicks, "#000");
  valueAxis(yF, 254, "right", fracTicks, ORANGE, d => d === 0 || d === 1 ? d : d3.format(".3~f")(d));
}

timeAxis(xLeg, 54, "top", [18, 24, 30], h => d3.format("02d")((h + 2) % 24));
timeAxis(xLeg, 605, "bottom", [18, 24, 30], utc);

// ---- header and footer
txt(358, 13, "wschód słońca: 04:01 CEST", NAVY, "middle");
txt(363, 26, "zachód słońca: 21:07 CEST", NAVY, "middle");
txt(596, 13, "21°28'30\"E, 53°53'34\"N", NAVY, "middle");
txt(596, 26, "(x=257,  y=358)", NAVY, "middle");
txt(818, 13, "wysokość (min, środek, max)", NAVY, "middle");
txt(818, 26, "128 - 151 - 178 m", NAVY, "middle");
txt(363, 652, "meteo@icm.edu.pl", NAVY, "middle", 13);
txt(749, 652, "© 2007-2025 ICM, Uniwersytet Warszawski", NAVY, "middle", 13);

// ---- rotated panel titles
[
  [295, 96, "temperatura"], [308, 96, "(°C)"],
  [295, 183, "opad"], [308, 183, "(mm/h, kg/m²/h)"],
  [295, 269, "ciśnienie"], [308, 269, "(hPa)"],
  [295, 356, "wiatr"], [308, 356, "(m/s)"],
  [295, 470, "pion. rozciągł. chm."], [308, 477, "(km)"],
  [295, 566, "zachmurzenie"], [308, 566, "(oktanty)"],
  [894, 96, "(°C)"], [907, 96, "temperatura"],
  [894, 180, "(%)"], [907, 180, "wilgotność wzgl."],
  [894, 269, "(mm Hg)"], [907, 269, "ciśnienie"],
  [894, 356, "(km/h)"], [907, 356, "wiatr"],
  [894, 477, "(km)"], [907, 477, "widzialność"],
  [894, 565, "(frakcja)"], [907, 565, "mgła"]
].forEach(d => txt(d[0], d[1], d[2], NAVY, "middle", 12, true));

// ---- compass letters
[[0, 0], [594, 597]].forEach(([dx, dxE]) => {
  txt(289 + dx, 423, "W", NAVY, "middle", 14);
  txt(300 + dx, 413, "N", NAVY, "middle", 13);
  txt(299 + dx, 428, "S", NAVY, "middle", 13);
  txt(310 + dxE, 417, "E", NAVY, "middle", 13, true);
});

// ---- legend captions and their leaders
[
  ["Czas lokalny", 6, 19, "#000"], ["(CET/CEST)", 6, 30, "#000"],
  ["Temperatura gruntu", 6, 47, "#a52a2a"], ["max/min", 27, 57, "#a52a2a"],
  ["Temperatura:", 6, 68, "#000"], ["punkt środkowy", 13, 80, "#f00000"],
  ["max/min", 27, 90, "#ffd8d0"], ["odczuwana", 10, 102, "#0000d0"],
  ["max/min", 27, 113, "#a8dcff"], ["Temp. punktu rosy", 6, 124, "#6a5acd"],
  ["Opad powyżej skali", 6, 141, "#f00000"], ["Wilgotność względna", 6, 155, HUM],
  ["Wystąpienie burzy", 6, 170, "#000"],
  ["Deszcz:", 6, 183, "#00a000"], ["max", 50, 183, "#00a000"], ["średni", 49, 194, "#00a000"],
  ["Śnieg:", 6, 205, "#2040d0"], ["max", 49, 205, "#2040d0"], ["średni", 49, 216, "#2040d0"],
  ["Wystąpienie opadu", 6, 228, "#f00000"], ["konwekcyjnego", 6, 241, "#f00000"],
  ["Ciśnienie", 5, 268, "#000"], ["zredukowane", 5, 281, "#000"], ["do poziomu morza", 5, 294, "#000"],
  ["Wiatr na 10m:", 5, 322, "#000"], ["poryw powyżej skali", 10, 338, "#f00000"],
  ["max porywy wiatru", 10, 352, "#f00000"], ["prędkość wiatru", 10, 372, "#1010b0"],
  ["w środku obszaru", 10, 386, "#1010b0"], ["kierunek wiatru", 10, 413, "#1010b0"],
  ["Wierzchołek chmur", 6, 434, "#a52a2a"], ["Podstawa chmur*", 6, 448, "#000"], ["o pokryciu", 6, 460, "#000"],
  ["> 7.9 okt.", 11, 472, "#000"], ["> 6.5 okt.", 11, 483, "#555"], ["> 4.5 okt.", 11, 494, "#999"],
  ["> 2.5 okt.", 11, 504, "#ddd"], ["Widzialność", 6, 530, ORANGE], ["Chmury:", 6, 547, "#000"],
  ["średnie", 10, 573, "#999"], ["niskie", 10, 585, "#333"], ["bardzo niskie", 10, 597, "#000"],
  ["Mgła", 6, 609, "#ffb000"], ["Czas uniwersalny (UTC)", 6, 626, "#000"]
].forEach(d => txt(d[1], d[2], d[0], d[3], "start", 11));

svg.append("rect").attr("x", 11).attr("y", 505).attr("width", 43).attr("height", 12).attr("fill", SKY);
txt(11, 515, "> 0.1 okt.", "#fff", "start", 11);
svg.append("rect").attr("x", 10).attr("y", 551).attr("width", 41).attr("height", 12).attr("fill", SKY);
txt(10, 561, "wysokie", "#fff", "start", 11);
txt(5, 652, "* powyżej poziomu morza", "#000", "start", 9.2);

leader("#000", [[67,16],[133,16],[156,45]]);
leader("#a52a2a", [[103,43],[120,43],[145,75]]);
leader("#f00000", [[92,76],[117,76]]);
leader("#f00000", [[130,76],[135,78],[155,103]]);
leader("#0000d0", [[68,99],[135,99]]);
leader("#6a5acd", [[93,120],[120,120],[135,113]]);
leader("#f00000", [[102,137],[135,137],[146,146]]);
leader(HUM, [[106,151],[112,151]]);
leader(HUM, [[130,151],[137,151],[150,165]]);
leader("#000", [[96,166],[113,166]]);
leader("#000", [[128,166],[133,166],[139,172]]);
leader("#00a000", [[71,179],[139,179]]);
leader("#00a000", [[80,190],[143,190]]);
leader("#2040d0", [[70,201],[113,201]]);
leader("#2040d0", [[127,201],[135,201],[160,171]]);
leader("#2040d0", [[80,212],[130,212],[160,180]]);
leader("#f00000", [[97,224],[143,224]]);
leader("#000", [[52,264],[130,264],[135,262]]);
leader("#f00000", [[112,334],[118,334]]);
leader("#f00000", [[130,334],[133,330],[140,315]]);
leader("#f00000", [[107,348],[130,348],[145,340]]);
leader("#1010b0", [[92,368],[135,368]]);
leader("#1010b0", [[86,410],[138,410]]);
leader("#a52a2a", [[100,430],[135,430],[145,435],[187,447]]);
leader("#000", [[58,468],[135,468],[191,455]]);
leader("#555", [[56,481],[135,481],[143,479]]);
leader("#999", [[56,490],[130,490],[136,498]]);
leader("#ddd", [[56,503],[130,503],[136,505]]);
leader(SKY, [[56,510],[135,510]]);
leader(SKY, [[56,513],[135,513]]);
leader(ORANGE, [[67,527],[129,527],[172,463]]);
leader(SKY, [[54,556],[186,556]]);
leader(SKY, [[54,559],[186,559]]);
leader("#999", [[50,572],[195,572]]);
leader("#333", [[40,582],[122,582]]);
leader("#000", [[74,594],[140,594]]);
leader("#ffb000", [[28,605],[215,605],[219,600]]);
leader("#000", [[139,623],[148,623],[157,609]]);
</script>
</body>
</html>
